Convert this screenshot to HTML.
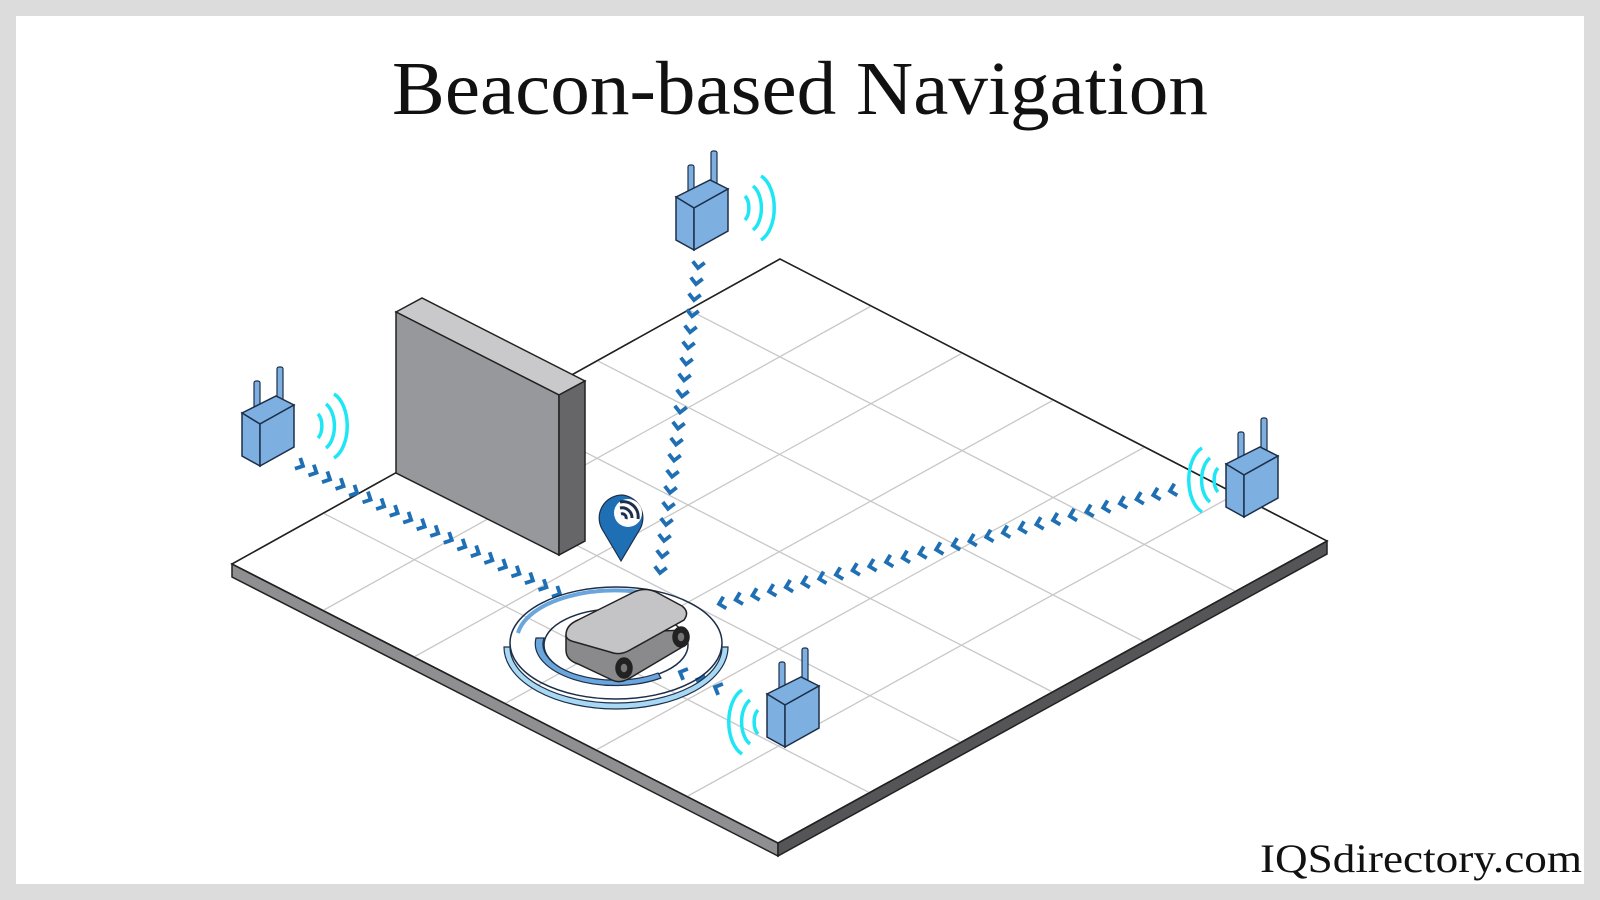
<!DOCTYPE html>
<html><head><meta charset="utf-8"><style>
html,body{margin:0;padding:0;background:#dcdcdc}
#wrap{position:relative;width:1600px;height:900px;background:#dcdcdc;overflow:hidden}
#inner{position:absolute;left:16px;top:16px;width:1568px;height:868px;background:#fff}
svg{position:absolute;left:0;top:0}
.t{font-family:"Liberation Serif",serif}
</style></head><body><div id="wrap"><div id="inner"></div>
<svg id="s" width="1600" height="900" viewBox="0 0 1600 900">
<text x="392" y="114" textLength="816" lengthAdjust="spacingAndGlyphs" class="t" font-size="76" fill="#111">Beacon-based Navigation</text>
<text x="1260" y="872" textLength="322" lengthAdjust="spacingAndGlyphs" class="t" font-size="40" fill="#111">IQSdirectory.com</text>
<!-- floor sides -->
<polygon points="232,564 778,843 778,856 232,577" fill="#8f8f91" stroke="#222" stroke-width="1.5"/>
<polygon points="778,843 1327,541 1327,554 778,856" fill="#555557" stroke="#222" stroke-width="1.5"/>
<polygon points="780,259 1327,541 778,843 232,564" fill="#fff" stroke="#222" stroke-width="1.5"/>
<g id="grid" stroke="#c8c8c8" stroke-width="1.3"></g>
<polygon points="780,259 1327,541 778,843 232,564" fill="none" stroke="#222" stroke-width="1.5"/>
<!-- wall -->
<polygon points="396,312 422,298 585,381 559,395" fill="#c9c9cb" stroke="#222" stroke-width="1.5"/>
<polygon points="396,312 559,395 559,555 396,473" fill="#97989b" stroke="#222" stroke-width="1.5"/>
<polygon points="559,395 585,381 585,541 559,555" fill="#666668" stroke="#222" stroke-width="1.5"/>
<g id="chev" fill="none" stroke="#1f6fb5" stroke-width="3.8" stroke-linecap="butt"></g>
<!-- robot rings -->
<g transform="translate(616,643)">
<ellipse cx="0" cy="0" rx="106" ry="56" fill="none" stroke="#1d2f4a" stroke-width="1.5"/>
<path d="M-112,4 A112,62 0 0 0 112,4 L106,4 A106,56 0 0 1 -106,4 Z" fill="#a8d8f3" stroke="#1d2f4a" stroke-width="1.2"/>
<path d="M-98,-10 A98,50 0 0 1 40,-48" fill="none" stroke="#6aa6dc" stroke-width="4"/>
<ellipse cx="0" cy="2" rx="72" ry="36" fill="none" stroke="#1d2f4a" stroke-width="1.5"/>
<path d="M-80,-5 A80,42 0 0 0 45,35 L42,30 A72,36 0 0 1 -72,-5 Z" fill="#6aa6dc" stroke="#1d2f4a" stroke-width="1.2"/>
</g>
<!-- robot -->
<g stroke="#222" stroke-width="1.5">
<path d="M566,635 L566,650 Q566,660 578,664 L612,680 Q620,684 630,678 L684,646 L684,630 Z" fill="#8a8a8c"/>
<path d="M566,635 Q566,625 578,620 L634,592 Q645,587 656,592 L682,606 Q690,612 684,620 L630,650 Q620,656 610,652 L575,642 Q566,640 566,635 Z" fill="#c4c4c6"/>
<ellipse cx="624" cy="668" rx="8" ry="10" fill="#222"/><ellipse cx="624" cy="668" rx="4" ry="5" fill="#777"/>
<ellipse cx="681" cy="637" rx="8" ry="10" fill="#222"/><ellipse cx="681" cy="637" rx="4" ry="5" fill="#777"/>
</g>
<!-- pin -->
<g transform="translate(598,495)">
<path d="M24,0 A23,23 0 0 0 4,34 L23,66 L42,34 A23,23 0 0 0 24,0 Z" fill="#1f6fb5" stroke="#1d2f4a" stroke-width="1.2"/>
<circle cx="30" cy="18" r="14" fill="#fff"/>
<path d="M22,13 A10,10 0 0 1 34,23 M22,7 A15,15 0 0 1 40,24 M23,19 A4,4 0 0 1 28,24" fill="none" stroke="#1d2f4a" stroke-width="3"/>
</g>
<defs>
<g id="bc">
<rect x="12" y="-15" width="6" height="36" rx="2" fill="#7db0e0" stroke="#1d2f4a" stroke-width="1.2"/>
<rect x="35" y="-29" width="6" height="36" rx="2" fill="#7db0e0" stroke="#1d2f4a" stroke-width="1.2"/>
<polygon points="0,17 34,0 52,9 18,28" fill="#7db0e0" stroke="#1d2f4a" stroke-width="1.5"/>
<polygon points="0,17 18,28 18,70 0,60" fill="#7db0e0" stroke="#1d2f4a" stroke-width="1.5"/>
<polygon points="18,28 52,9 52,51 18,70" fill="#7db0e0" stroke="#1d2f4a" stroke-width="1.5"/>
</g>
<g id="arcR" fill="none" stroke="#1ee6f5" stroke-width="3.5">
<path d="M0,-12 A8,14 0 0 1 0,12"/><path d="M8,-22 A14,24 0 0 1 8,22"/><path d="M16,-32 A20,34 0 0 1 16,32"/>
</g>
</defs>
<use href="#bc" x="242" y="396"/><use href="#arcR" x="318" y="426"/>
<use href="#bc" x="676" y="180"/><use href="#arcR" x="745" y="208"/>
<use href="#bc" x="1226" y="447"/><use href="#arcR" transform="translate(1218,480) scale(-1,1)"/>
<use href="#bc" x="767" y="677"/><use href="#arcR" transform="translate(758,722) scale(-1,1)"/>
</svg></div>
<script>
var NS="http://www.w3.org/2000/svg";
var T=[780,259],R=[1327,541],B=[778,843],L=[232,564];
function lp(a,b,t){return [a[0]+(b[0]-a[0])*t,a[1]+(b[1]-a[1])*t];}
var g=document.getElementById("grid");
function ln(p,q){var e=document.createElementNS(NS,"line");e.setAttribute("x1",p[0]);e.setAttribute("y1",p[1]);e.setAttribute("x2",q[0]);e.setAttribute("y2",q[1]);g.appendChild(e);}
for(var i=1;i<6;i++){ln(lp(L,T,i/6),lp(B,R,i/6));ln(lp(T,R,i/6),lp(L,B,i/6));}
var c=document.getElementById("chev");
function chev(a,b,n,s){var dx=b[0]-a[0],dy=b[1]-a[1],d=Math.hypot(dx,dy),ux=dx/d,uy=dy/d,px=-uy,py=ux;
for(var k=0;k<n;k++){var t=k/(n-1),x=a[0]+dx*t,y=a[1]+dy*t;
var p=document.createElementNS(NS,"path");
p.setAttribute("d","M"+(x-ux*s+px*s)+","+(y-uy*s+py*s)+" L"+x+","+y+" L"+(x-ux*s-px*s)+","+(y-uy*s-py*s));c.appendChild(p);}}
chev([303,466],[560,594],20,6);
chev([698,268],[660,573],20,6);
chev([1170,491],[719,604],28,6);
chev([715,687],[680,672],3,6);
</script>
</body></html>
